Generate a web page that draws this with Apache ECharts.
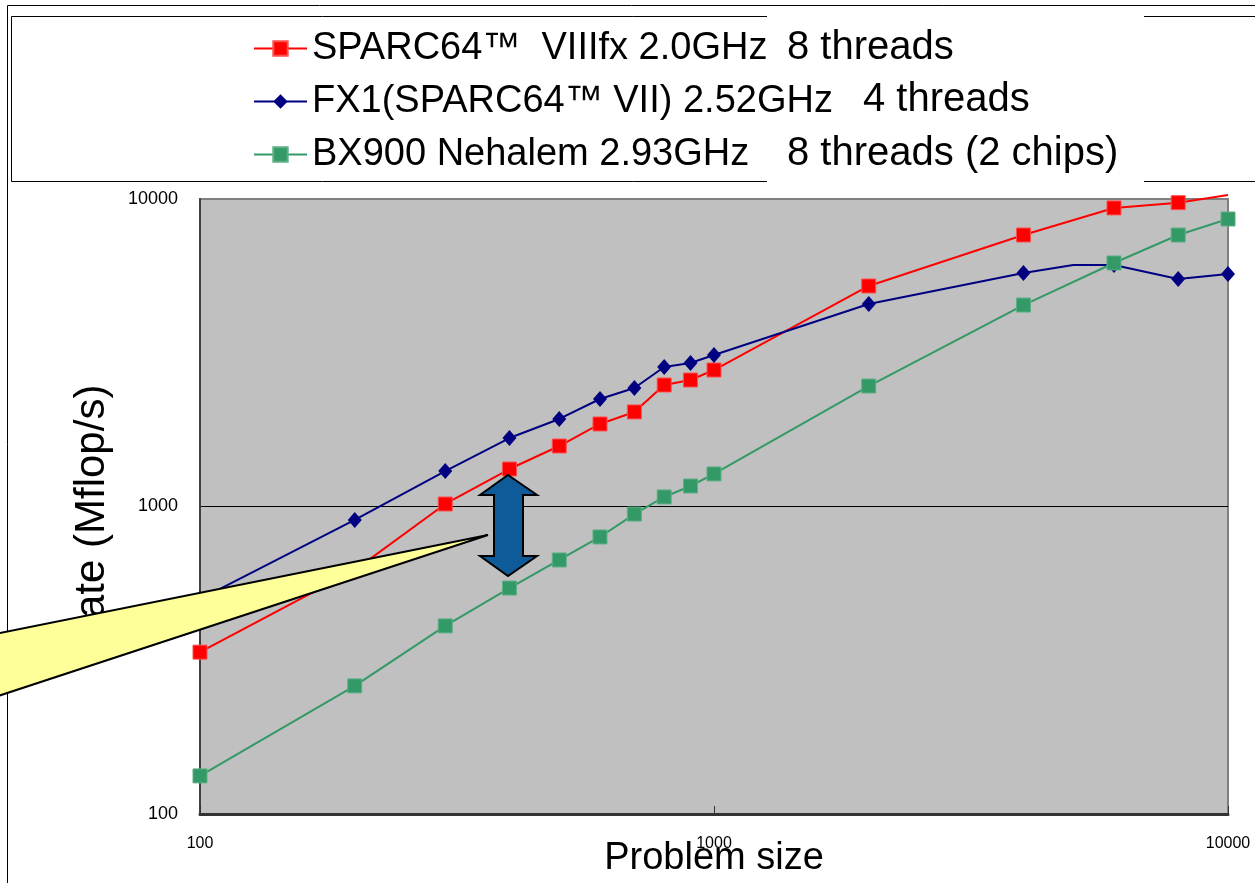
<!DOCTYPE html>
<html>
<head>
<meta charset="utf-8">
<script src="https://cdn.jsdelivr.net/npm/echarts@6/dist/echarts.min.js"></script>
<style>
html,body{margin:0;padding:0;background:#fff;}
#chart{width:1255px;height:883px;}
</style>
</head>
<body>
<div id="chart"></div>
<script>
// ---- data ----
const problemSizes = [100, 200, 300, 400, 500, 600, 700, 800, 900, 1000, 2000, 4000, 5000, 6000, 8000, 10000];
const sparcVIIIfx = [336, 621, 1019, 1324, 1573, 1855, 2030, 2484, 2578, 2779, 5213, 7637, null, 9352, 9728, 10300];
const fx1VII      = [500, 904, 1304, 1670, 1926, 2237, 2428, 2843, 2929, 3110, 4557, 5746, 6102, 6102, 5495, 5703];
const bx900       = [133, 261, 409, 543, 670, 796, 945, 1074, 1166, 1276, 2465, 4520, null, 6194, 7636, 8610];
const markerless  = { sparc: [200, 10000], fx1: [5000], bx: [] };
const seriesNames = ['SPARC64™  VIIIfx 2.0GHz', 'FX1(SPARC64™ VII) 2.52GHz', 'BX900 Nehalem 2.93GHz'];
const threadNotes = ['8 threads', '4 threads', '8 threads (2 chips)'];
const xTicks = [100, 1000, 10000];
const yTicks = [100, 1000, 10000];

function pairs(vals, noMarker) {
  const out = [];
  problemSizes.forEach((x, i) => {
    if (vals[i] == null) return;
    if (noMarker.indexOf(x) >= 0) out.push({ value: [x, vals[i]], symbol: 'none' });
    else out.push([x, vals[i]]);
  });
  return out;
}

const FONT = '"Liberation Sans", Arial, "Noto Sans CJK JP", sans-serif';
const chart = echarts.init(document.getElementById('chart'));

chart.setOption({
  animation: false,
  backgroundColor: '#ffffff',
  grid: {
    left: 200, top: 199, right: 27, bottom: 69,
    outerBoundsMode: 'none', containLabel: false,
    show: true, backgroundColor: '#C0C0C0', borderColor: '#808080', borderWidth: 2
  },
  legend: {
    orient: 'vertical', left: 253, top: 28, padding: 0, z: 20,
    itemWidth: 53, itemHeight: 18, itemGap: 12,
    textStyle: { fontFamily: FONT, fontSize: 38, lineHeight: 41, color: '#000' },
    data: seriesNames
  },
  xAxis: {
    type: 'log', logBase: 10, min: xTicks[0], max: xTicks[xTicks.length - 1],
    name: 'Problem size', nameLocation: 'middle', nameGap: 26, nameMoveOverlap: false,
    nameTextStyle: { fontFamily: FONT, fontSize: 38, color: '#000' },
    axisLine: { show: true, lineStyle: { color: '#333333', width: 3 } },
    axisTick: { show: true, inside: true, length: 8, lineStyle: { color: '#333' } },
    axisLabel: { fontFamily: FONT, fontSize: 16, color: '#000', margin: 22,
      formatter: v => String(Math.round(v)) },
    splitLine: { show: false }
  },
  yAxis: {
    type: 'log', logBase: 10, min: yTicks[0], max: yTicks[yTicks.length - 1],
    name: 'Rate (Mflop/s)', nameLocation: 'middle', nameGap: 87, nameMoveOverlap: false,
    nameTextStyle: { fontFamily: FONT, fontSize: 42, color: '#000', padding: [0, 20, 0, 0] },
    axisLine: { show: true, lineStyle: { color: '#404040', width: 2 } },
    axisTick: { show: false },
    axisLabel: { fontFamily: FONT, fontSize: 18, color: '#000', margin: 22,
      formatter: v => String(Math.round(v)) },
    splitLine: { show: true, lineStyle: { color: ['#404040', '#000000', '#808080'], width: 1 } }
  },
  series: [
    {
      name: seriesNames[0], type: 'line', clip: false,
      data: pairs(sparcVIIIfx, markerless.sparc),
      symbol: 'rect', symbolSize: 14, showAllSymbol: true,
      lineStyle: { color: '#FF0000', width: 2 },
      itemStyle: { color: '#FF0000', borderColor: '#FF5050', borderWidth: 1 },
      z: 3
    },
    {
      name: seriesNames[1], type: 'line', clip: false,
      data: pairs(fx1VII, markerless.fx1),
      symbol: 'diamond', symbolSize: [14, 16], showAllSymbol: true,
      lineStyle: { color: '#000080', width: 2 },
      itemStyle: { color: '#000080', borderWidth: 0 },
      z: 4
    },
    {
      name: seriesNames[2], type: 'line', clip: false,
      data: pairs(bx900, markerless.bx),
      symbol: 'rect', symbolSize: 14, showAllSymbol: true,
      lineStyle: { color: '#339966', width: 2 },
      itemStyle: { color: '#339966', borderColor: '#5DB086', borderWidth: 1 },
      z: 5
    }
  ],
  graphic: {
    elements: [
      // outer chart-area frame
      { type: 'rect', z: -10, silent: true,
        shape: { x: 7.5, y: 5.5, width: 1400, height: 1000 },
        style: { fill: 'none', stroke: '#000', lineWidth: 1 } },
      // legend box
      { type: 'rect', z: -5, silent: true,
        shape: { x: 11.5, y: 16.5, width: 1400, height: 165 },
        style: { fill: '#ffffff', stroke: '#000', lineWidth: 1 } },
      // white note box covering legend frame
      { type: 'rect', z: 1, silent: true,
        shape: { x: 767, y: 6, width: 377, height: 177 },
        style: { fill: '#ffffff', stroke: 'none' } },
      { type: 'text', z: 2, silent: true, left: 787, top: 28,
        style: { text: threadNotes[0], font: '40px ' + FONT, fill: '#000' } },
      { type: 'text', z: 2, silent: true, left: 863, top: 80,
        style: { text: threadNotes[1], font: '40px ' + FONT, fill: '#000' } },
      { type: 'text', z: 2, silent: true, left: 787, top: 134,
        style: { text: threadNotes[2], font: '40px ' + FONT, fill: '#000' } },
      // yellow callout pointer
      { type: 'polygon', z: 60, silent: true,
        shape: { points: [[-20, 637], [488, 535], [-20, 702]] },
        style: { fill: '#FFFF99', stroke: '#000', lineWidth: 2, lineJoin: 'miter' } },
      // blue double arrow
      { type: 'polygon', z: 60, silent: true,
        shape: { points: [[508, 475], [537, 495], [523, 495], [523, 556], [537, 556],
                          [508, 576], [480, 556], [494, 556], [494, 495], [480, 495]] },
        style: { fill: '#0F5B99', stroke: '#000', lineWidth: 2 } }
    ]
  }
});
</script>
</body>
</html>
